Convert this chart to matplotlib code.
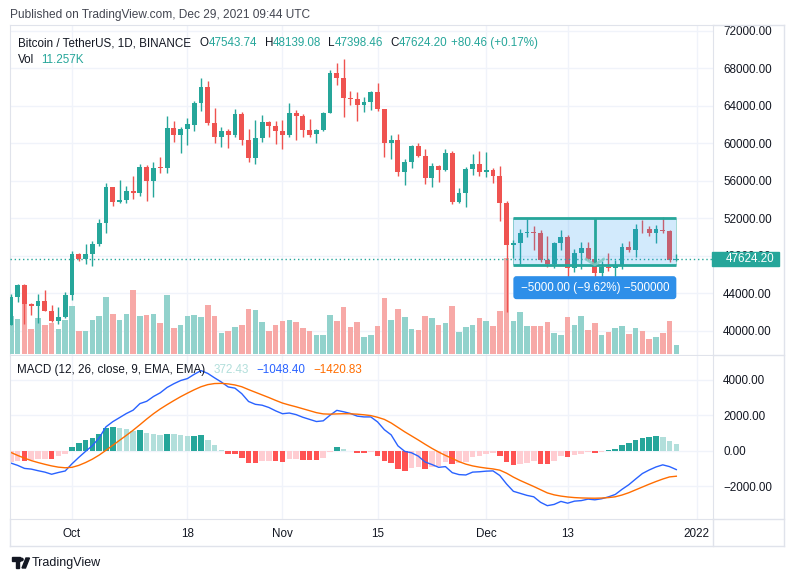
import numpy as np
import pandas as pd
import matplotlib
matplotlib.use('Agg')
import matplotlib.pyplot as plt
import matplotlib.transforms as mtransforms
from matplotlib.patches import Rectangle, FancyBboxPatch, Polygon, Circle
from matplotlib.lines import Line2D

plt.rcParams['font.family'] = ['Liberation Sans', 'DejaVu Sans']

# ---- data (BTCUSDT daily) ----
dates = pd.date_range('2021-09-22', '2021-12-29', freq='D')

opens = [40596, 43566, 44869, 42810, 42670, 43160, 42147, 41026, 41524, 43820,
         48141, 47634, 48200, 49225, 51471, 55316, 53786, 53955, 54949, 54659,
         57471, 56005, 57367, 57347, 61672, 60876, 61528, 62005, 64281, 66001,
         62193, 60689, 61286, 60852, 63079, 60328, 58413, 60575, 62253, 61859,
         61300, 60912, 63220, 62897, 61396, 60941, 61470, 63274, 67525, 66947,
         64883, 64774, 64122, 64380, 65519, 63606, 60059, 60345, 56891, 58057,
         59707, 58617, 56248, 57541, 57139, 58960, 53723, 54716, 57274, 57777,
         56951, 57185, 56485, 53601, 49152, 49397, 50441, 50589, 50472, 47536,
         47141, 49389, 50054, 46703, 48336, 48864, 47633, 46134, 46834, 46682,
         46915, 48897, 48588, 50839, 50820, 50428, 50803, 50640, 47543.74]
highs = [43957, 44978, 45000, 42966, 43920, 44350, 42787, 42590, 44132, 48495,
         48336, 49228, 49536, 51886, 55750, 55332, 56100, 55490, 56561, 57839,
         57680, 58000, 58532, 62933, 62378, 61718, 62695, 64486, 67000, 66639,
         63732, 61748, 61500, 63711, 63293, 61496, 62499, 62980, 62359, 62405,
         62437, 64270, 63500, 63086, 62595, 61560, 63286, 67789, 68524, 69000,
         65600, 65460, 64916, 65550, 66401, 63617, 60838, 60976, 58320, 59846,
         60029, 59444, 57875, 57712, 59398, 59170, 55280, 57445, 58865, 59176,
         59053, 57375, 57600, 53859, 49699, 50857, 51936, 51200, 50797, 50125,
         49485, 50724, 50189, 48700, 49500, 49436, 47995, 47392, 48300, 47537,
         49328, 49576, 51375, 51869, 51156, 51280, 52088, 50703, 48139.08]
lows = [40570, 43069, 40750, 41646, 40800, 42098, 40931, 40753, 41410, 43283,
        47430, 47088, 46891, 49022, 50382, 53357, 53617, 53661, 54080, 54415,
        53879, 54219, 56818, 56850, 60150, 58963, 59844, 61322, 63481, 62000,
        60000, 59562, 59510, 60650, 59817, 58000, 57820, 60174, 60673, 59945,
        59405, 60625, 60382, 60677, 60722, 60050, 61322, 63273, 66222, 62822,
        64100, 62333, 63303, 63577, 63400, 58574, 58373, 56474, 55600, 57353,
        58486, 55610, 55317, 55837, 57000, 53500, 53610, 53256, 56666, 56476,
        56458, 55777, 51680, 42000, 47727, 47100, 50040, 48600, 47320, 46852,
        46751, 48638, 45672, 46290, 46547, 47511, 45456, 45500, 46406, 45558,
        46631, 48421, 47920, 50450, 50142, 49412, 50449, 47313, 47398.46]
closes = [43566, 44869, 42810, 42670, 43160, 42147, 41026, 41524, 43824, 48141,
          47634, 48200, 49224, 51471, 55315, 53785, 53951, 54950, 54659, 57471,
          56005, 57367, 57347, 61672, 60875, 61528, 62009, 64280, 66001, 62193,
          60688, 61286, 60852, 63078, 60328, 58413, 60575, 62253, 61859, 61299,
          60911, 63219, 62896, 61395, 60937, 61470, 63273, 67525, 66947, 64882,
          64774, 64122, 64380, 65519, 63606, 60058, 60345, 56892, 58052, 59707,
          58623, 56248, 57541, 57138, 58960, 53726, 54721, 57274, 57776, 56951,
          57184, 56480, 53601, 49152, 49397, 50441, 50589, 50471, 47545, 47140,
          49389, 50053, 46702, 48343, 48864, 47632, 46131, 46834, 46681, 46915,
          48896, 48588, 50838, 50821, 50429, 50809, 50640, 47543.74, 47624.20]
# volume in thousands of BTC
volumes = [49, 44.9, 67.3, 32, 46.2, 37.1, 40.5, 32, 43.6, 61.7,
           29.4, 29.4, 43.6, 48.8, 73.4, 51.8, 43.6, 51.8, 82.4, 48.8,
           50.5, 51.8, 40.1, 76.3, 33.3, 37.5, 48.8, 50.1, 47.5, 63,
           48.8, 27.2, 29.4, 34.5, 37.1, 57.8, 56.5, 41, 29.4, 37.1,
           42.3, 43.6, 41, 33.3, 29.4, 24.2, 24.2, 50.1, 42.3, 60.4,
           34.5, 41, 21.6, 24.2, 35.8, 72.1, 43.6, 57.8, 47.5, 32,
           30.7, 48.8, 46.2, 37.1, 39.7, 61.7, 28.1, 34.5, 37.1, 46.2,
           42.3, 35.8, 55.3, 124.2, 42.3, 54, 35.8, 35.8, 35.8, 41,
           26.8, 24.2, 47.5, 37.1, 48.8, 30.7, 39.7, 24.2, 28.1, 33.3,
           35.8, 25.5, 33.3, 29.4, 19, 21.6, 26.8, 42.3, 11.257]
macd_line = [-680, -810, -980, -1020, -1110, -1190, -1310, -1210, -1125, -720,
             -360, -20, 300, 740, 1360, 1650, 1880, 2110, 2300, 2670,
             2800, 3070, 3280, 3580, 3790, 3970, 4080, 4320, 4530, 4370,
             4120, 3885, 3610, 3540, 3230, 2790, 2630, 2580, 2450, 2260,
             2100, 2140, 2050, 1900, 1780, 1660, 1700, 2015, 2290, 2210,
             2115, 1965, 1920, 1920, 1640, 1200, 910, 290, -20, -100,
             -290, -620, -760, -920, -880, -1220, -1330, -1350, -1190, -1170,
             -1135, -1120, -1380, -1860, -2270, -2385, -2500, -2580, -2890, -3080,
             -3010, -2840, -2940, -2825, -2795, -2710, -2750, -2690, -2585, -2450,
             -2160, -1900, -1580, -1270, -1070, -900, -780, -880, -1048.40]
signal_line = [-80, -250, -400, -540, -650, -750, -840, -910, -945, -920,
               -810, -650, -460, -230, 40, 320, 600, 880, 1170, 1480,
               1800, 2100, 2370, 2610, 2840, 3060, 3260, 3450, 3620, 3740,
               3800, 3810, 3780, 3720, 3620, 3460, 3310, 3160, 3010, 2850,
               2700, 2590, 2490, 2380, 2270, 2160, 2090, 2075, 2090, 2100,
               2095, 2075, 2040, 1995, 1900, 1780, 1580, 1330, 1080, 850,
               620, 380, 150, -60, -250, -420, -600, -740, -840, -910,
               -965, -1010, -1080, -1250, -1470, -1660, -1830, -2000, -2180, -2360,
               -2470, -2540, -2590, -2625, -2645, -2655, -2660, -2650, -2625, -2580,
               -2480, -2350, -2190, -2030, -1870, -1720, -1580, -1460, -1420.83]
macd_hist = [-600, -560, -580, -480, -460, -440, -470, -300, -180, 200,
             450, 630, 760, 970, 1320, 1330, 1280, 1230, 1130, 1190,
             1000, 970, 910, 970, 950, 910, 820, 870, 910, 630,
             320, 75, -170, -180, -390, -670, -680, -580, -560, -590,
             -600, -450, -440, -480, -490, -500, -390, -60, 200, 110,
             20, -110, -120, -75, -260, -580, -670, -1040, -1100, -950,
             -910, -1000, -910, -860, -630, -760, -670, -610, -350, -260,
             -170, -110, -300, -610, -800, -725, -670, -580, -710, -720,
             -540, -300, -350, -200, -150, -55, -90, -40, 40, 130,
             320, 450, 610, 760, 800, 820, 800, 580, 372.43]

tick_dates = ['2021-10-01', '2021-10-18', '2021-11-01', '2021-11-15',
              '2021-12-01', '2021-12-13', '2022-01-01']
tick_labels = ['Oct', '18', 'Nov', '15', 'Dec', '13', '2022']

range_high, range_low = 52000, 47000
range_start, range_end = '2021-12-05', '2021-12-29'

# ---- style ----
UP, DN = '#26a69a', '#ef5350'
VOL_UP, VOL_DN = '#92d2cc', '#f7a9a7'
GRID = '#f0f3fa'
FRAME = '#e0e3eb'
TXT = '#131722'
FS = 8.4

W, H = 793, 582
fig = plt.figure(figsize=(W / 100, H / 100), dpi=100)


def fx(px):
    return px / W


def fy(py):
    return 1 - py / H


x = np.arange(len(dates))
o, h, l, c = map(np.array, (opens, highs, lows, closes))
up = c >= o

price_rect = [fx(10), fy(355), 703 / W, 330 / H]
macd_rect = [fx(10), fy(519), 703 / W, 163 / H]
xlim = (-0.13, 103.4)
plim = (37418, 72619)

ax_p = fig.add_axes(price_rect)
ax_v = fig.add_axes(price_rect, sharex=ax_p)
ax_c = fig.add_axes(price_rect, sharex=ax_p, sharey=ax_p)
ax_m = fig.add_axes(macd_rect, sharex=ax_p)

tick_x = [(pd.Timestamp(d) - dates[0]).days for d in tick_dates]

# base price axes: grid + right labels
ax_p.set_xlim(*xlim)
ax_p.set_ylim(*plim)
ax_p.set_xticks(tick_x)
ax_p.set_yticks(range(40000, 72001, 4000))
ax_p.yaxis.tick_right()
ax_p.yaxis.set_major_formatter(lambda v, p: f'{v:.2f}')
ax_p.tick_params(axis='both', length=0, labelsize=FS, labelcolor=TXT, pad=7.2)
ax_p.tick_params(axis='x', labelbottom=False)
ax_p.grid(True, color=GRID, lw=1)
for s in ax_p.spines.values():
    s.set_color(FRAME)

# volume
ax_v.axis('off')
ax_v.bar(x, volumes, width=0.82, color=np.where(up, VOL_UP, VOL_DN), lw=0)
ax_v.set_ylim(-1.3, 425.7)

# candles
ax_c.axis('off')
cols = np.where(up, UP, DN)
ax_c.vlines(x, l, h, colors=cols, lw=1)
ax_c.bar(x, np.maximum(np.abs(c - o), 90), bottom=np.minimum(o, c),
         width=0.72, color=cols, lw=0)

# current price line + tag
last = closes[-1]
ax_c.axhline(last, color=UP, lw=1, ls=(0, (1, 2)))
dpp = (plim[1] - plim[0]) / 330
blend = mtransforms.blended_transform_factory(ax_c.transAxes, ax_c.transData)
ax_c.add_patch(Rectangle((-1 / 703 + 1, last - 7 * dpp), 67 / 703, 14 * dpp,
                         transform=blend, color=UP, clip_on=False, zorder=5))
ax_c.text(1 + 13 / 703, last, f'{last:.2f}', transform=blend, color='white',
          fontsize=FS, va='center', ha='left', zorder=6, clip_on=False)

# price range drawing
xs = (pd.Timestamp(range_start) - dates[0]).days
xe = (pd.Timestamp(range_end) - dates[0]).days
xm = (xs + xe) / 2
ax_c.add_patch(Rectangle((xs, range_low), xe - xs, range_high - range_low,
                         fc='#2196f3', alpha=0.2, ec='none', zorder=3))
ax_c.vlines([xs, xe], range_low, range_high, colors=UP, lw=0.6, alpha=0.5,
            zorder=4)
ax_c.hlines([range_low, range_high], xs, xe, colors=UP, lw=2, zorder=4)
ax_c.vlines([xm], range_low, range_high, colors=UP, lw=2, zorder=4)
ax_c.plot([xm - 1.3, xm, xm + 1.3], [range_low + 6 * dpp, range_low + 0.3 * dpp,
          range_low + 6 * dpp], color='#80cbc4', lw=2, alpha=0.8, zorder=4)
lab_top = range_low - 11 * dpp
lab_bot = lab_top - 23 * dpp
ax_c.add_patch(FancyBboxPatch((xs, lab_bot), xe - xs, lab_top - lab_bot,
                              boxstyle='round,pad=0,rounding_size=0.45',
                              mutation_aspect=dpp * 6.79, fc='#2e8fe9', ec='none',
                              zorder=5))
diff = range_low - range_high
ax_c.text(xm, (lab_top + lab_bot) / 2,
          f'{diff:.2f} ({diff / range_high * 100:.2f}%) {diff * 100:.0f}'.replace('-', '\u2212'),
          color='white', fontsize=FS, ha='center', va='center', zorder=6)

# MACD panel
hist = np.array(macd_hist)
prev = np.r_[hist[0], hist[:-1]]
hcols = np.where(hist >= 0, np.where(hist > prev, '#26a69a', '#b2dfdb'),
                 np.where(hist < prev, '#ff5252', '#ffcdd2'))
ax_m.bar(x, hist, width=0.82, color=hcols, lw=0)
ax_m.plot(x, macd_line, color='#2962ff', lw=1)
ax_m.plot(x, signal_line, color='#ff6d00', lw=1)
ax_m.set_ylim(-3831, 5352)
ax_m.set_yticks([-2000, 0, 2000, 4000])
ax_m.yaxis.tick_right()
ax_m.yaxis.set_major_formatter(lambda v, p: f'{v:.2f}'.replace('-', '\u2212'))
ax_m.set_xticks(tick_x)
ax_m.set_xticklabels(tick_labels)
ax_m.tick_params(axis='y', length=0, labelsize=FS, labelcolor=TXT, pad=7.2)
ax_m.tick_params(axis='x', length=0, labelsize=FS, labelcolor=TXT, pad=6.5)
ax_m.grid(True, color=GRID, lw=1)
ax_m.set_axisbelow(True)
for s in ax_m.spines.values():
    s.set_color(FRAME)
ax_m.spines['top'].set_visible(False)
ax_m.set_xlim(*xlim)

# outer frame lines
for (x0, y0, x1, y1) in [(783.5, 25, 783.5, 546), (10, 546, 783.5, 546),
                         (10, 519, 10, 546), (713, 519, 713, 546),
                         (713, 25, 783.5, 25), (713, 355, 783.5, 355),
                         (713, 519, 783.5, 519)]:
    fig.add_artist(Line2D([fx(x0), fx(x1)], [fy(y0), fy(y1)], color=FRAME, lw=1,
                          transform=fig.transFigure))

# legend texts
renderer = fig.canvas.get_renderer()


def text_row(x_px, y_px, parts, size=FS):
    for s, col, gap in parts:
        t = fig.text(fx(x_px), fy(y_px), s, color=col, fontsize=size,
                     ha='left', va='center')
        x_px += t.get_window_extent(renderer).width + gap


fig.text(fx(10), fy(15), 'Published on TradingView.com, Dec 29, 2021 09:44 UTC',
         color='#434651', fontsize=8.6, ha='left', va='center')

chg = closes[-1] - closes[-2]
text_row(18, 43, [('Bitcoin / TetherUS, 1D, BINANCE', TXT, 9),
                  ('O', TXT, 0), (f'{opens[-1]:.2f}', UP, 7),
                  ('H', TXT, 0), (f'{highs[-1]:.2f}', UP, 7),
                  ('L', TXT, 0), (f'{lows[-1]:.2f}', UP, 7),
                  ('C', TXT, 0), (f'{closes[-1]:.2f}', UP, 4),
                  (f'+{chg:.2f} (+{chg / closes[-2] * 100:.2f}%)', UP, 0)])
text_row(18, 60, [('Vol', TXT, 7), (f'{volumes[-1]:.3f}K', UP, 0)])
text_row(17, 370, [('MACD (12, 26, close, 9, EMA, EMA)', TXT, 8),
                   (f'{macd_hist[-1]:.2f}', '#b2dfdb', 8),
                   (f'{macd_line[-1]:.2f}'.replace('-', '\u2212'), '#2962ff', 8),
                   (f'{signal_line[-1]:.2f}'.replace('-', '\u2212'), '#ff6d00', 0)])

# TradingView logo
logo = [Rectangle((fx(12), fy(560.5)), 7.5 / W, 3.5 / H),
        Rectangle((fx(15.5), fy(568)), 3.5 / W, 10 / H),
        Polygon([(fx(22), fy(568)), (fx(26), fy(558)), (fx(29.5), fy(558)),
                 (fx(25.5), fy(568))])]
for p in logo:
    p.set_color(TXT)
    p.set_transform(fig.transFigure)
    fig.add_artist(p)
fig.add_artist(Circle((fx(21.3), fy(559.5)), 1.8 / W, color=TXT,
                      transform=fig.transFigure))
fig.text(fx(32), fy(563), 'TradingView', color=TXT, fontsize=9, ha='left',
         va='center')

fig.savefig('out.png', dpi=100)
